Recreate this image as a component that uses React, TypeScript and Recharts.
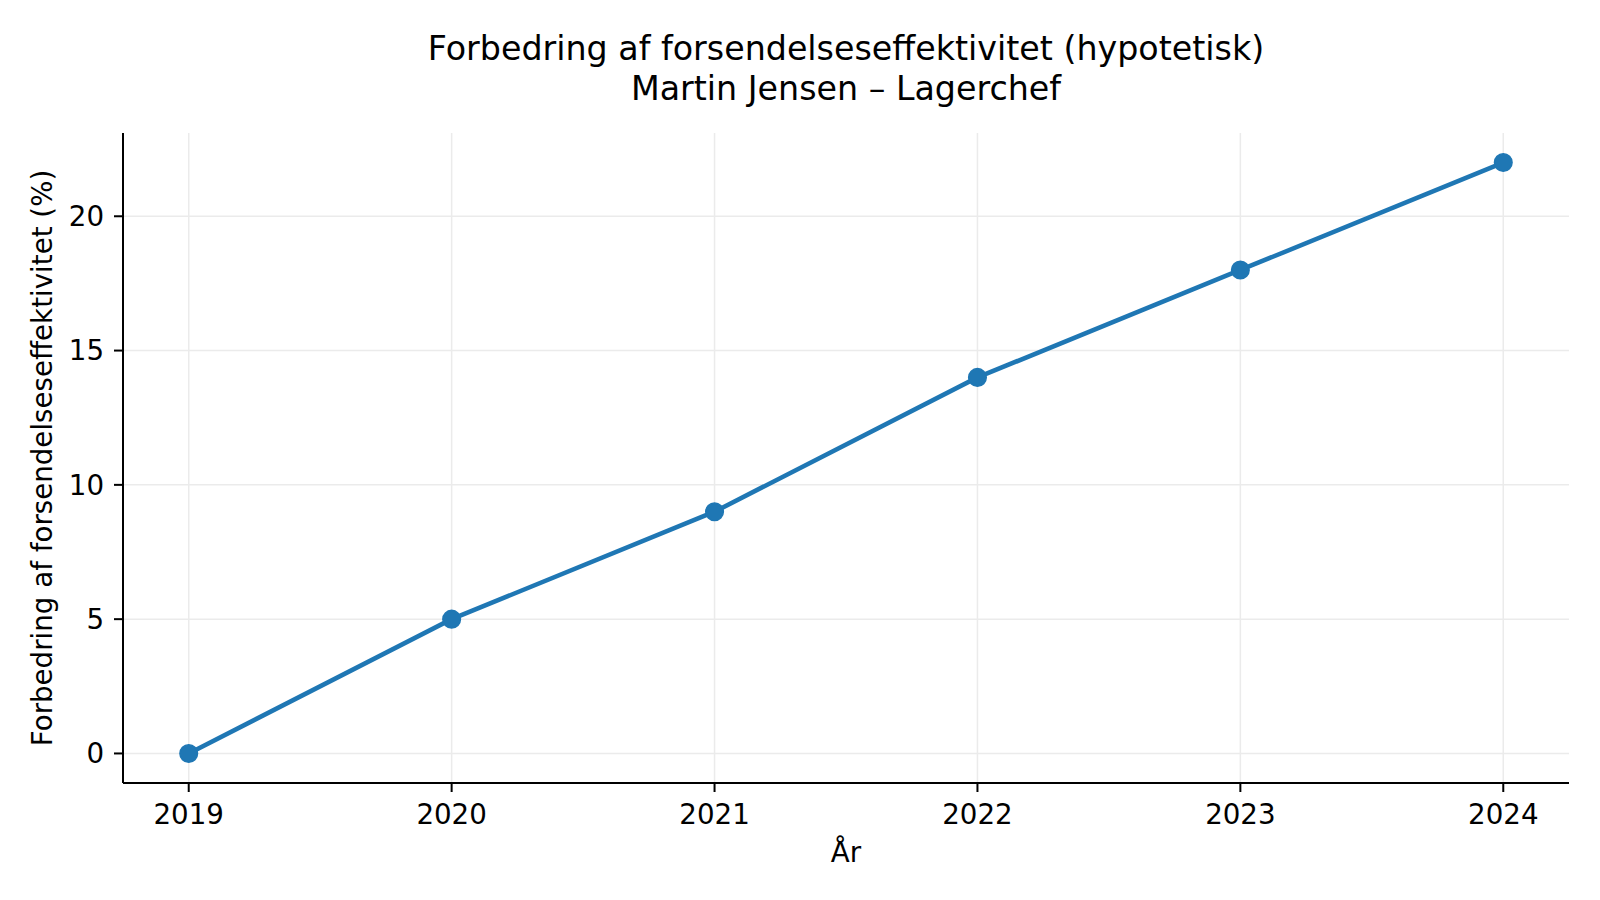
import React from 'react'
import { LineChart, Line, XAxis, YAxis, CartesianGrid } from 'recharts'

const years = [2019, 2020, 2021, 2022, 2023, 2024]
const improvement = [0, 5, 9, 14, 18, 22]
const yTicks = [0, 5, 10, 15, 20]

const data = years.map((year, i) => ({ year, value: improvement[i] }))

const FONT = '"DejaVu Sans", sans-serif'

export default function App() {
  return (
    <div style={{ position: 'absolute', left: 0, top: 0, width: 1600, height: 900, background: '#fff', fontFamily: FONT }}>
      <div style={{ position: 'absolute', left: 0, width: 1692, top: 29, textAlign: 'center', fontSize: 33.3, lineHeight: '40px', color: '#000' }}>
        <div>Forbedring af forsendelseseffektivitet (hypotetisk)</div>
        <div>Martin Jensen – Lagerchef</div>
      </div>
      <div style={{ position: 'absolute', left: 0, width: 1692, top: 836, textAlign: 'center', fontSize: 27.7, lineHeight: '34px', color: '#000' }}>
        År
      </div>
      <div
        style={{
          position: 'absolute',
          left: 43,
          top: 458,
          transform: 'translate(-50%, -50%) rotate(-90deg)',
          whiteSpace: 'nowrap',
          fontSize: 27.7,
          lineHeight: '34px',
          color: '#000',
        }}
      >
        Forbedring af forsendelseseffektivitet (%)
      </div>
      <LineChart
        width={1600}
        height={900}
        data={data}
        margin={{ top: 133, right: 31, bottom: 57, left: 43 }}
      >
        <CartesianGrid
          stroke="#ebebeb"
          strokeWidth={1.5}
          horizontalValues={yTicks}
          verticalValues={years}
        />
        <XAxis
          dataKey="year"
          type="number"
          domain={[2018.75, 2024.25]}
          ticks={years}
          height={60}
          axisLine={{ stroke: '#000', strokeWidth: 2 }}
          tickLine={{ stroke: '#000', strokeWidth: 2 }}
          tickSize={9}
          tickMargin={12}
          tick={{ fill: '#000', fontSize: 27.7, fontFamily: FONT }}
          allowDataOverflow
        />
        <YAxis
          type="number"
          domain={[-1.1, 23.1]}
          ticks={yTicks}
          width={80}
          axisLine={{ stroke: '#000', strokeWidth: 2 }}
          tickLine={{ stroke: '#000', strokeWidth: 2 }}
          tickSize={9}
          tickMargin={10}
          tick={{ fill: '#000', fontSize: 27.7, fontFamily: FONT }}
          allowDataOverflow
        />
        <Line
          dataKey="value"
          stroke="#1f77b4"
          strokeWidth={4.6}
          dot={{ r: 8.8, fill: '#1f77b4', stroke: '#1f77b4', strokeWidth: 1.5 }}
          activeDot={false}
          isAnimationActive={false}
        />
      </LineChart>
    </div>
  )
}
